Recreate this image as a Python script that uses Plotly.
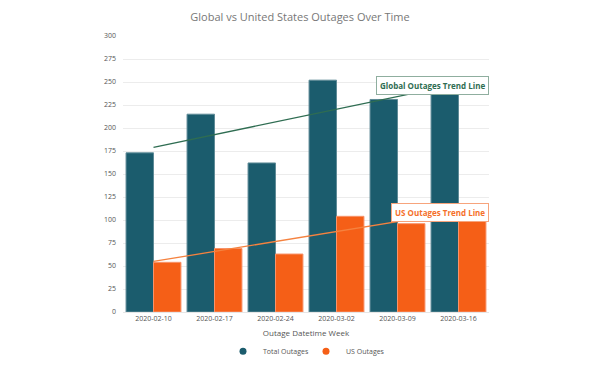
import plotly.graph_objects as go

weeks = ["2020-02-10", "2020-02-17", "2020-02-24", "2020-03-02", "2020-03-09", "2020-03-16"]
total_outages = [173, 215, 162, 252, 231, 247]
us_outages = [54, 69, 63, 104, 96, 110]
global_trend = [179, 248]
us_trend = [55, 109]
trend_weeks = [weeks[0], weeks[-1]]

TEAL = "#1b5c6d"
ORANGE = "#f55f17"
GREEN = "#2f6d52"
FONT = "Open Sans"

fig = go.Figure()
fig.add_trace(go.Bar(x=weeks, y=total_outages, name="Total Outages",
                     marker=dict(color=TEAL, line=dict(color="#5f8b97", width=1)),
                     showlegend=False))
fig.add_trace(go.Bar(x=weeks, y=us_outages, name="US Outages",
                     marker=dict(color=ORANGE, line=dict(color="#f8936a", width=1)),
                     showlegend=False))
fig.add_trace(go.Scatter(x=trend_weeks, y=global_trend, mode="lines",
                         line=dict(color=GREEN, width=1.3), showlegend=False))
fig.add_trace(go.Scatter(x=trend_weeks, y=us_trend, mode="lines",
                         line=dict(color="#f5823f", width=1.3), showlegend=False))
# legend entries with circle markers
fig.add_trace(go.Scatter(x=[None], y=[None], mode="markers", name="Total Outages",
                         marker=dict(color=TEAL, size=7, symbol="circle")))
fig.add_trace(go.Scatter(x=[None], y=[None], mode="markers", name="US Outages",
                         marker=dict(color=ORANGE, size=7, symbol="circle")))

fig.add_annotation(xref="paper", x=1.0, xanchor="right", y=global_trend[1] - 2, yanchor="middle",
                   text="<b>Global Outages Trend Line</b>", showarrow=False,
                   font=dict(family=FONT, size=8, color=GREEN),
                   bgcolor="white", bordercolor="#8fae9f", borderwidth=1, borderpad=3)
fig.add_annotation(xref="paper", x=1.0, xanchor="right", y=us_trend[1] - 1, yanchor="middle",
                   text="<b>US Outages Trend Line</b>", showarrow=False,
                   font=dict(family=FONT, size=8, color="#f5702a"),
                   bgcolor="white", bordercolor="#f7a47c", borderwidth=1, borderpad=3)

fig.update_layout(
    width=584, height=349,
    margin=dict(l=115, r=103, t=28, b=45, autoexpand=False),
    paper_bgcolor="white", plot_bgcolor="white",
    font=dict(family=FONT, size=7, color="#555"),
    title=dict(text="Global vs United States Outages Over Time", x=0.5, xanchor="center",
               y=0.974, yanchor="middle", font=dict(family=FONT, size=11, color="#777")),
    barmode="group", bargap=0.1, bargroupgap=0,
    legend=dict(orientation="h", x=0.5, xanchor="center", y=-0.1425, yanchor="middle",
                font=dict(family=FONT, size=7, color="#555"), itemwidth=30,
                entrywidth=38, entrywidthmode="pixels"),
    xaxis=dict(type="category", title=dict(text="Outage Datetime Week", standoff=7,
               font=dict(family=FONT, size=8, color="#555")),
               showgrid=False, showline=True, linecolor="#e6e6e6", ticks="",
               tickfont=dict(size=7, color="#555"), automargin=False),
    yaxis=dict(range=[0, 300], dtick=25, showgrid=True, gridcolor="#ececec",
               zeroline=False, tickfont=dict(size=7, color="#555"), ticks="",
               ticklabelstandoff=6, automargin=False),
)

fig.write_html("out.html")
